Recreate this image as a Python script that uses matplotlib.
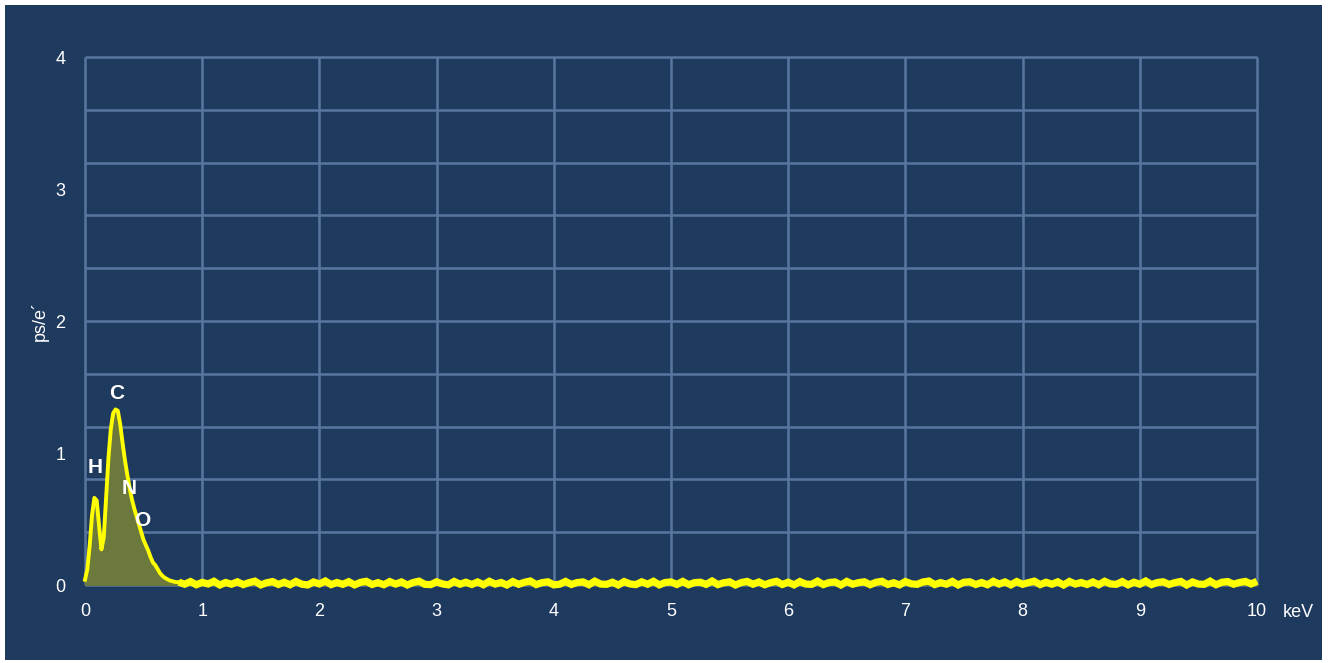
import numpy as np
import matplotlib.pyplot as plt
from matplotlib.patches import Rectangle

plt.rcParams['font.family'] = ['Liberation Sans', 'DejaVu Sans']

# low-energy part of the spectrum (keV, counts per electron)
peakEnergy = [0.00, 0.02, 0.04, 0.06, 0.08, 0.10, 0.12, 0.14, 0.16, 0.18,
              0.20, 0.22, 0.24, 0.26, 0.28, 0.30, 0.32, 0.34, 0.36, 0.38,
              0.40, 0.42, 0.44, 0.46, 0.48, 0.50, 0.52, 0.54, 0.56, 0.58,
              0.60, 0.62, 0.64, 0.66, 0.68, 0.70, 0.72, 0.74, 0.76, 0.78]
peakCounts = [0.04, 0.12, 0.30, 0.53, 0.66, 0.64, 0.45, 0.27, 0.36, 0.66,
              0.96, 1.18, 1.30, 1.33, 1.32, 1.22, 1.08, 0.95, 0.84, 0.74,
              0.65, 0.58, 0.52, 0.46, 0.40, 0.34, 0.30, 0.26, 0.21, 0.17,
              0.15, 0.12, 0.09, 0.07, 0.055, 0.045, 0.035, 0.03, 0.025, 0.022]

# flat background from 0.80 to 10.00 keV, every 0.05 keV
baseCounts = [
    0.022, 0.006, 0.026, 0.002, 0.020, 0.008, 0.028, 0.000, 0.019, 0.006,
    0.024, 0.003, 0.018, 0.029, 0.001, 0.017, 0.026, 0.004, 0.021, 0.002,
    0.027, 0.006, 0.000, 0.023, 0.008, 0.030, 0.003, 0.019, 0.005, 0.025,
    0.001, 0.020, 0.028, 0.004, 0.018, 0.002, 0.026, 0.007, 0.023, 0.000,
    0.019, 0.029, 0.005, 0.003, 0.024, 0.008, 0.001, 0.027, 0.006, 0.021,
    0.004, 0.023, 0.002, 0.028, 0.007, 0.019, 0.000, 0.026, 0.005, 0.021,
    0.030, 0.003, 0.018, 0.024, 0.001, 0.006, 0.027, 0.004, 0.019, 0.023,
    0.002, 0.029, 0.007, 0.005, 0.021, 0.000, 0.026, 0.008, 0.003, 0.024,
    0.006, 0.028, 0.001, 0.019, 0.023, 0.004, 0.027, 0.002, 0.018, 0.021,
    0.005, 0.030, 0.003, 0.017, 0.024, 0.000, 0.019, 0.027, 0.006, 0.023,
    0.002, 0.018, 0.028, 0.004, 0.021, 0.001, 0.026, 0.007, 0.005, 0.029,
    0.003, 0.019, 0.023, 0.000, 0.027, 0.006, 0.018, 0.024, 0.002, 0.021,
    0.028, 0.004, 0.017, 0.001, 0.026, 0.009, 0.005, 0.023, 0.030, 0.003,
    0.018, 0.006, 0.027, 0.000, 0.021, 0.024, 0.004, 0.019, 0.002, 0.028,
    0.007, 0.023, 0.001, 0.026, 0.005, 0.018, 0.029, 0.003, 0.021, 0.006,
    0.024, 0.000, 0.027, 0.007, 0.019, 0.004, 0.023, 0.002, 0.028, 0.008,
    0.005, 0.026, 0.001, 0.021, 0.006, 0.030, 0.003, 0.019, 0.024, 0.004,
    0.018, 0.027, 0.000, 0.023, 0.007, 0.005, 0.029, 0.002, 0.021, 0.026,
    0.006, 0.019, 0.027, 0.008, 0.028]
baseEnergy = np.linspace(0.80, 10.00, len(baseCounts))

# element markers: symbol, x, y
elements = ['H', 'C', 'N', 'O']
elemX = [0.09, 0.27, 0.38, 0.49]
elemY = [0.89, 1.45, 0.73, 0.49]

xTicks = [0, 1, 2, 3, 4, 5, 6, 7, 8, 9, 10]
yTicks = [0, 1, 2, 3, 4]
yGrid = [0, 0.4, 0.8, 1.2, 1.6, 2.0, 2.4, 2.8, 3.2, 3.6, 4.0]

energy = np.concatenate([peakEnergy, baseEnergy])
counts = np.concatenate([peakCounts, baseCounts])

bg = '#1f3a5f'
gridColor = '#5877a0'
yellow = '#ffff00'

fig = plt.figure(figsize=(13.3, 6.63), dpi=100, facecolor='white')
fig.patches.append(Rectangle((5 / 1330, 3 / 663), 1317 / 1330, 655 / 663,
                             transform=fig.transFigure, facecolor=bg,
                             edgecolor='none', zorder=-10))

ax = fig.add_axes([85 / 1330, 78 / 663, 1172 / 1330, 528 / 663])
ax.set_facecolor(bg)
ax.set_xlim(0, 10)
ax.set_ylim(0, 4)

# grid box: every keV across, every 0.4 up
ax.vlines(xTicks, 0, 4, color=gridColor, linewidth=1.8, zorder=1, clip_on=False)
ax.hlines(yGrid, 0, 10, color=gridColor, linewidth=1.8, zorder=1, clip_on=False)

ax.set_xticks(xTicks)
ax.set_yticks(yTicks)
ax.tick_params(length=0, colors='white', labelsize=13)
ax.tick_params(axis='x', pad=13)
ax.tick_params(axis='y', pad=14)
for s in ax.spines.values():
    s.set_visible(False)

ax.fill_between(energy, counts, color='#6b7a3c', zorder=2)
# noisy background drawn as a heavier band, peaks as a finer trace
ax.plot(baseEnergy, baseCounts, color=yellow, linewidth=5.2, zorder=3,
        solid_joinstyle='miter', solid_capstyle='butt', clip_on=False)
ax.plot(peakEnergy + [baseEnergy[0]], peakCounts + [baseCounts[0]],
        color=yellow, linewidth=2.8, zorder=3, solid_joinstyle='round',
        clip_on=False)

for sym, xx, yy in zip(elements, elemX, elemY):
    ax.text(xx, yy, sym, color='white', fontsize=15, fontweight='bold',
            ha='center', va='center', zorder=4)

ax.text(1.022, -0.052, 'keV', transform=ax.transAxes, color='white',
        fontsize=13, ha='left', va='center')
ax.set_ylabel('ps/e\u00b4', color='white', fontsize=13)
ax.yaxis.set_label_coords(-0.031, 0.5)

fig.savefig('out.png', dpi=100, facecolor='white')
